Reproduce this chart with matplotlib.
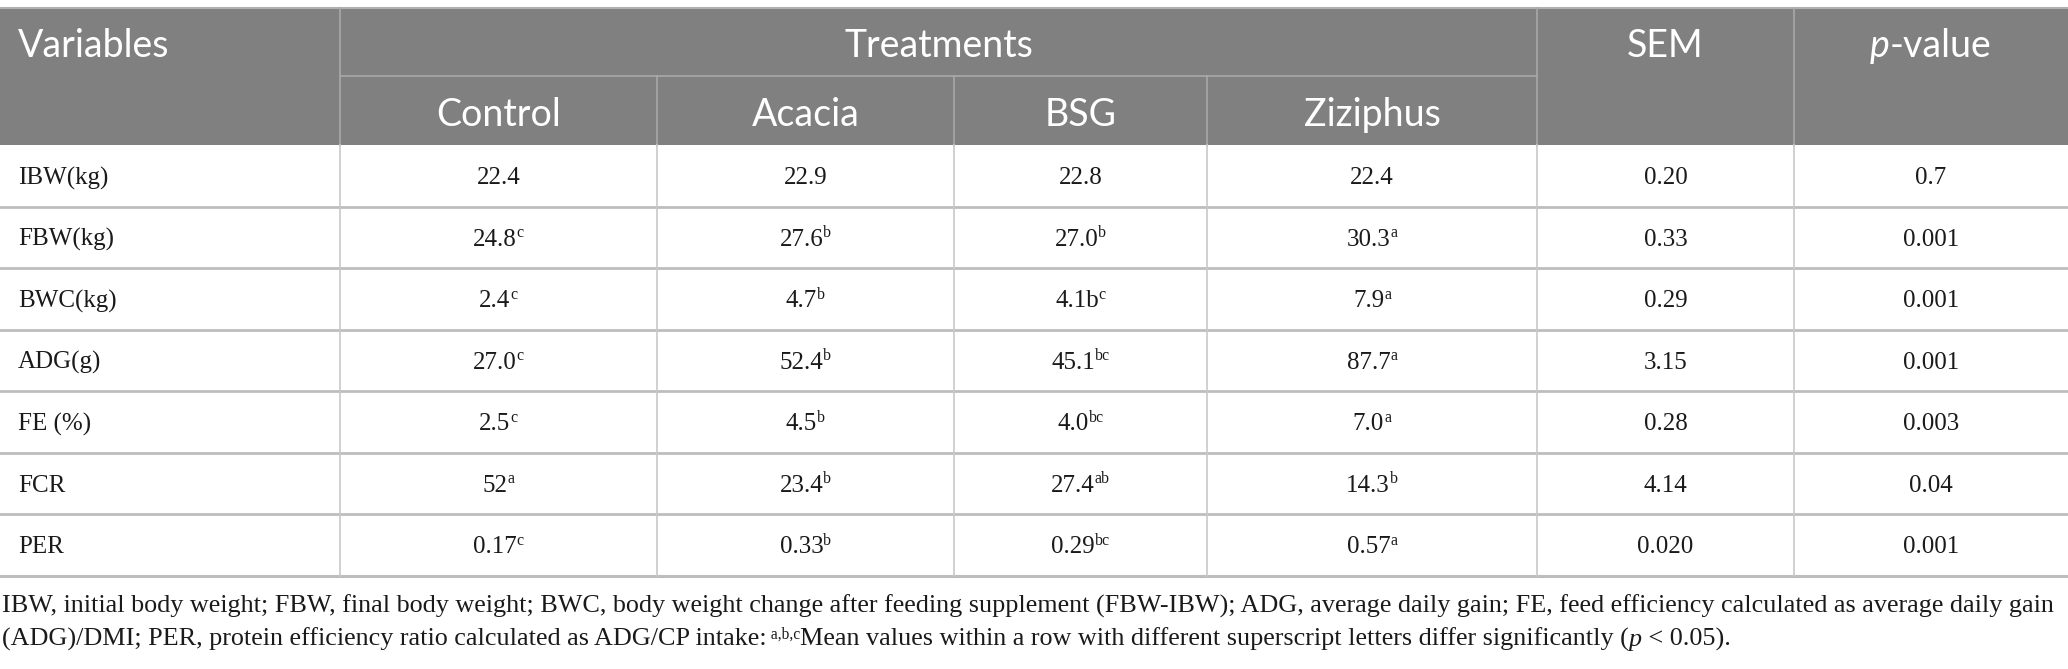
import matplotlib
matplotlib.use("Agg")
import matplotlib.pyplot as plt

# table content
variables = ["IBW(kg)", "FBW(kg)", "BWC(kg)", "ADG(g)", "FE (%)", "FCR", "PER"]
treatments = ["Control", "Acacia", "BSG", "Ziziphus"]
control = ["22.4", "24.8", "2.4", "27.0", "2.5", "52", "0.17"]
control_sup = ["", "c", "c", "c", "c", "a", "c"]
acacia = ["22.9", "27.6", "4.7", "52.4", "4.5", "23.4", "0.33"]
acacia_sup = ["", "b", "b", "b", "b", "b", "b"]
bsg = ["22.8", "27.0", "4.1b", "45.1", "4.0", "27.4", "0.29"]
bsg_sup = ["", "b", "c", "bc", "bc", "ab", "bc"]
ziziphus = ["22.4", "30.3", "7.9", "87.7", "7.0", "14.3", "0.57"]
ziziphus_sup = ["", "a", "a", "a", "a", "b", "a"]
sem = ["0.20", "0.33", "0.29", "3.15", "0.28", "4.14", "0.020"]
pvalue = ["0.7", "0.001", "0.001", "0.001", "0.003", "0.04", "0.001"]

W, H = 2068, 669
fig = plt.figure(figsize=(W / 100, H / 100), dpi=100)
ax = fig.add_axes([0, 0, 1, 1])
ax.set_xlim(0, W)
ax.set_ylim(H, 0)
ax.axis("off")
renderer = fig.canvas.get_renderer()

HEAD = dict(family="Lato", fontsize=27, color="white")
BODY = dict(family="Liberation Serif", fontsize=18, color="#1a1a1a")
SUP = dict(family="Liberation Serif", fontsize=11.5, color="#1a1a1a")

cols = [0, 340, 657, 954, 1207, 1537, 1794, W]
top, mid, hdr = 8, 76, 145
row_h = 61.5
n = len(variables)
bottom = hdr + n * row_h


def width_of(s, **kw):
    t = ax.text(0, 0, s, **kw)
    w = t.get_window_extent(renderer).width
    t.remove()
    return w


def draw_runs(x, y, runs, ha="center"):
    # runs: (text, props, raise in px); y is the baseline
    widths = [width_of(s, **kw) for s, kw, _ in runs]
    x0 = x - sum(widths) / 2 if ha == "center" else x
    for (s, kw, dy), w in zip(runs, widths):
        ax.text(x0, y - dy, s, ha="left", va="baseline", **kw)
        x0 += w


# header background
ax.add_patch(plt.Rectangle((0, top), W, hdr - top, color="#808080", lw=0))
ax.plot([0, W], [top, top], color="#b0b0b0", lw=1.5)
hl = "#a8a8a8"
ax.plot([cols[1], cols[5]], [mid, mid], color=hl, lw=1.2)
for i, x in enumerate(cols[1:-1], start=1):
    if i in (1, 5, 6):
        ax.plot([x, x], [top, hdr], color=hl, lw=1.2)
    else:
        ax.plot([x, x], [mid, hdr], color=hl, lw=1.2)

hb_top = 43 + 14
hb_sub = 112 + 14
ax.text(18, hb_top, "Variables", ha="left", va="baseline", **HEAD)
ax.text((cols[1] + cols[5]) / 2, hb_top, "Treatments", ha="center", va="baseline", **HEAD)
ax.text((cols[5] + cols[6]) / 2, hb_top, "SEM", ha="center", va="baseline", **HEAD)
draw_runs((cols[6] + cols[7]) / 2, hb_top,
          [("p", dict(HEAD, style="italic"), 0), ("-value", HEAD, 0)])
for j, name in enumerate(treatments):
    ax.text((cols[j + 1] + cols[j + 2]) / 2, hb_sub, name, ha="center", va="baseline", **HEAD)

# body grid
for i in range(1, n + 1):
    y = hdr + i * row_h
    ax.plot([0, W], [y, y], color="#bdbdbd", lw=2 if i < n else 2.2)
for x in cols[1:-1]:
    ax.plot([x, x], [hdr, bottom], color="#c8c8c8", lw=1.2)

# body text
values = [(control, control_sup), (acacia, acacia_sup), (bsg, bsg_sup), (ziziphus, ziziphus_sup)]
for i in range(n):
    base = hdr + (i + 0.5) * row_h + 8.5
    ax.text(18, base, variables[i], ha="left", va="baseline", **BODY)
    for j, (vals, sups) in enumerate(values):
        cx = (cols[j + 1] + cols[j + 2]) / 2
        runs = [(vals[i], BODY, 0)]
        if sups[i]:
            runs.append((sups[i], SUP, 8.5))
        draw_runs(cx, base, runs)
    ax.text((cols[5] + cols[6]) / 2, base, sem[i], ha="center", va="baseline", **BODY)
    ax.text((cols[6] + cols[7]) / 2, base, pvalue[i], ha="center", va="baseline", **BODY)

# footnote
note1 = ("IBW, initial body weight; FBW, final body weight; BWC, body weight change after feeding "
         "supplement (FBW-IBW); ADG, average daily gain; FE, feed efficiency calculated as average daily gain")
fs = 16 * 2056 / width_of(note1, family="Liberation Serif", fontsize=16)
NOTE = dict(family="Liberation Serif", fontsize=fs, color="#1a1a1a")
NSUP = dict(family="Liberation Serif", fontsize=fs * 0.6, color="#1a1a1a")
ax.text(2, 613, note1, ha="left", va="baseline", **NOTE)
draw_runs(2, 646, [
    ("(ADG)/DMI; PER, protein efficiency ratio calculated as ADG/CP intake:", NOTE, 0),
    (" a,b,c", NSUP, 7),
    ("Mean values within a row with different superscript letters differ significantly (", NOTE, 0),
    ("p", dict(NOTE, style="italic"), 0),
    (" < 0.05).", NOTE, 0),
], ha="left")

fig.savefig("out.png", dpi=100, facecolor="white")
